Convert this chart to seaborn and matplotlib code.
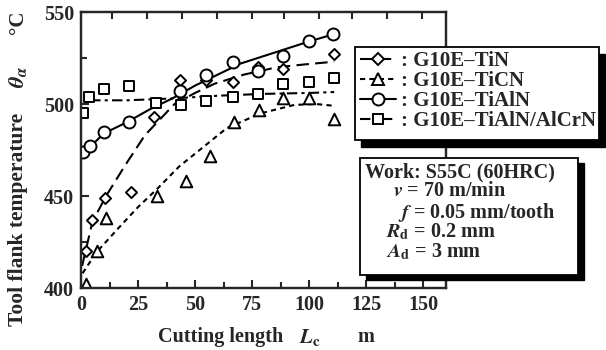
import numpy as np
import pandas as pd
import matplotlib
matplotlib.use("Agg")
import matplotlib.pyplot as plt
from matplotlib.lines import Line2D
from matplotlib.patches import Rectangle
import seaborn as sns

# measured points (cutting length m, temperature C)
tin_L = [2, 5, 10.5, 22, 32, 43.5, 55, 66.5, 77.5, 88.5, 111]
tin_T = [420, 437, 449, 452, 493, 513, 513, 512, 520, 519, 527]

ticn_L = [2, 7, 11, 33.5, 46, 56.5, 67, 78, 88.5, 100, 111]
ticn_T = [402, 420, 438, 450, 458, 472, 490, 497, 503, 503, 492]

tialn_L = [1, 4, 10, 21, 43.5, 55, 66.5, 77.5, 88.5, 100, 110.5]
tialn_T = [474, 477, 485, 490, 507, 516, 523, 518, 526, 534, 538]

alcrn_L = [0.7, 3.6, 10, 21, 33, 44, 55, 66.5, 77.5, 88.5, 100, 111]
alcrn_T = [495, 504, 508, 510, 500.5, 499.5, 501.5, 504, 505.5, 511, 512, 514]

# fitted curves
tin_fit_L = [0.5, 5, 11, 19, 28, 41, 50, 58.5, 71.5, 86, 98, 111]
tin_fit_T = [412, 436, 450, 466, 483, 500, 506, 511, 516, 520, 521.5, 523]

ticn_fit_L = [0.7, 6.5, 16, 25, 33.5, 43, 53, 64, 79, 93.5, 103, 111]
ticn_fit_T = [408, 419, 432, 444, 454, 466, 476, 487, 495, 499.5, 500, 499]

tialn_fit_L = [1, 10, 20, 30, 40, 50, 60, 70, 80, 90, 100, 111]
tialn_fit_T = [473, 484, 490, 497, 503, 510, 516, 522, 526, 530, 534, 538]

alcrn_fit_L = [4, 20, 40, 60, 80, 100, 111]
alcrn_fit_T = [502, 502, 503, 504.5, 505.5, 506, 506.5]

labels = [": G10E\u2013TiN", ": G10E\u2013TiCN", ": G10E\u2013TiAlN", ": G10E\u2013TiAlN/AlCrN"]
x_ticks = [0, 25, 50, 75, 100, 125, 150]
y_ticks = [400, 450, 500, 550]
top_ticks = [13.5, 28.8, 44.2, 59.6, 74.9, 88.8, 104.2, 118.8, 134.2, 149.6]

sns.set_style("ticks")
plt.rcParams["font.family"] = ["Liberation Serif", "DejaVu Serif"]
plt.rcParams["font.weight"] = "bold"
plt.rcParams["mathtext.fontset"] = "stix"

W, H = 606, 350
fig = plt.figure(figsize=(W / 100, H / 100), dpi=100)
ax = fig.add_axes([81 / W, 1 - 288 / H, 365 / W, 276 / H])

series = [
    (tin_L, tin_T, tin_fit_L, tin_fit_T, "D", 32, (0, (6, 3))),
    (ticn_L, ticn_T, ticn_fit_L, ticn_fit_T, "^", 70, (0, (2.5, 2))),
    (tialn_L, tialn_T, tialn_fit_L, tialn_fit_T, "o", 74, "-"),
    (alcrn_L, alcrn_T, alcrn_fit_L, alcrn_fit_T, "s", 60, (0, (5, 2, 1.5, 2))),
]

handles = []
for L, T, fL, fT, mk, sz, ls in series:
    sns.lineplot(x=fL, y=fT, ax=ax, color="black", linewidth=1.5,
                 linestyle=ls, sort=False, zorder=2)
    sns.scatterplot(x=L, y=T, ax=ax, marker=mk, s=sz, facecolor="white",
                    edgecolor="black", linewidth=1.4, zorder=3)
    handles.append(Line2D([], [], color="black", linewidth=1.5, linestyle=ls,
                          marker=mk, markersize=np.sqrt(sz),
                          markerfacecolor="white", markeredgecolor="black",
                          markeredgewidth=1.4))

ax.set_xlim(0, 160)
ax.set_ylim(400, 550)
ax.set_xticks(x_ticks)
ax.set_yticks(y_ticks)
ax.set_xticks(np.arange(0, 160, 12.5), minor=True)
ax.set_yticks(np.arange(400, 551, 25), minor=True)
ax.tick_params(which="both", direction="in", width=1.5, labelsize=14.5, pad=5)
ax.tick_params(which="major", length=6)
ax.tick_params(which="minor", length=4)
ax.set_xlabel("")
ax.set_ylabel("")
for sp in ax.spines.values():
    sp.set_linewidth(1.6)
    sp.set_visible(True)

ax2 = ax.twiny()
ax2.set_xlim(0, 160)
ax2.set_xticks(top_ticks)
ax2.tick_params(direction="in", length=5, width=1.5, labeltop=False)
for sp in ax2.spines.values():
    sp.set_linewidth(1.6)

# axis titles
fig.text(221 / W, 1 - 337 / H, "Cutting length", ha="center", va="center", fontsize=14.5)
fig.text(310 / W, 1 - 337 / H, "$L_\\mathrm{c}$", ha="center", va="center", fontsize=15)
fig.text(366 / W, 1 - 337 / H, "m", ha="center", va="center", fontsize=14.5)
fig.text(18 / W, 1 - 219 / H, "Tool flank temperature", rotation=90, ha="center", va="center", fontsize=15.5)
fig.text(18 / W, 1 - 77 / H, "$\\theta_\\alpha$", rotation=90, ha="center", va="center", fontsize=16)
fig.text(18 / W, 1 - 22 / H, "\u00b0C", rotation=90, ha="center", va="center", fontsize=15)

# boxes with a black drop shadow
def box(x0, y0, x1, y1, dx, dy):
    fig.patches.append(Rectangle((x0 / W + dx / W, 1 - (y1 + dy) / H), (x1 - x0) / W, (y1 - y0) / H,
                                 transform=fig.transFigure, facecolor="black", edgecolor="black", zorder=5))
    fig.patches.append(Rectangle((x0 / W, 1 - y1 / H), (x1 - x0) / W, (y1 - y0) / H,
                                 transform=fig.transFigure, facecolor="white", edgecolor="black",
                                 linewidth=1.3, zorder=6))

box(355, 47, 599, 140, 6, 7)
box(360, 158, 578, 275, 6, 5)

leg = fig.legend(handles, labels, loc="upper left", bbox_to_anchor=(358 / W, 1 - 49 / H),
                 frameon=False, fontsize=15, handlelength=1.7, handletextpad=0.25,
                 labelspacing=0.0, borderpad=0.1, borderaxespad=0)
leg.set_zorder(7)

info = [
    (365, 172, "Work: S55C (60HRC)"),
    (393, 191, "$v$ = 70 m/min"),
    (398, 212, "$f$ = 0.05 mm/tooth"),
    (386, 232, "$R_\\mathrm{d}$ = 0.2 mm"),
    (386, 252, "$A_\\mathrm{d}$ = 3 mm"),
]
for x, y, s in info:
    fig.text(x / W, 1 - y / H, s, ha="left", va="center", fontsize=14.5, zorder=8)

fig.savefig("out.png", dpi=100)
